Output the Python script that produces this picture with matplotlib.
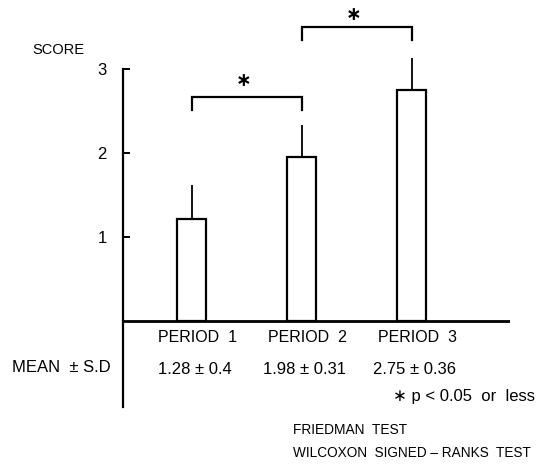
import matplotlib
matplotlib.use("Agg")
import matplotlib.pyplot as plt

plt.rcParams['font.family'] = ['Liberation Sans', 'DejaVu Sans']

# ---- data ----
periods = ["PERIOD  1", "PERIOD  2", "PERIOD  3"]
means = [1.21, 1.95, 2.75]
sds = [0.41, 0.38, 0.38]
mean_labels = ["1.28 \u00b1 0.4", "1.98 \u00b1 0.31", "2.75 \u00b1 0.36"]
y_ticks = [1, 2, 3]
y_ticklabels = ["1", "2", "3"]
comparisons = [(0, 1), (1, 2)]

W, H = 536, 466
fig = plt.figure(figsize=(W / 100, H / 100), dpi=100)

# axes placed in pixel coordinates
x_left_px, x_right_px = 122.7, 510
ax = fig.add_axes([x_left_px / W, 0, (x_right_px - x_left_px) / W, 1])
px_per_unit_x = 110.0
px_per_unit_y = 84.0
y0_px = 321.0  # pixel row (from top) of y=0
x0_px = 191.5  # pixel column of first bar
ax.set_xlim((x_left_px - x0_px) / px_per_unit_x, (x_right_px - x0_px) / px_per_unit_x)
ax.set_ylim(-(H - y0_px) / px_per_unit_y, y0_px / px_per_unit_y)
ax.patch.set_alpha(0)


def py(p):
    """pixel row -> data y"""
    return (y0_px - p) / px_per_unit_y


xs = list(range(len(means)))
ax.bar(xs, means, width=0.26, color="white", edgecolor="black", linewidth=1.6, zorder=3)
ax.errorbar(xs, means, yerr=[[0] * len(sds), sds], fmt="none", ecolor="black",
            elinewidth=1.3, capsize=0, zorder=2)

# axes styling
for s in ["top", "right", "bottom"]:
    ax.spines[s].set_visible(False)
ax.spines["left"].set_linewidth(1.6)
ax.spines["left"].set_bounds(py(407), 3)
ax.axhline(0, color="black", linewidth=2.0, zorder=4)
ax.set_xticks([])
ax.set_yticks(y_ticks)
ax.set_yticklabels(y_ticklabels)
ax.tick_params(axis="y", direction="in", length=5, width=1.4, pad=11.5, labelsize=12)

# significance brackets
bracket_tops = [py(96.7), py(26.5)]
star_y = [py(80), py(15)]
for (a, b), top, sy in zip(comparisons, bracket_tops, star_y):
    ax.plot([a, a, b, b], [top - 0.16, top, top, top - 0.16], color="black",
            linewidth=1.6, solid_joinstyle="miter", clip_on=False)
    ax.text((a + b) / 2 - 0.03, sy, "\u2217", ha="center", va="center", fontsize=13.5,
            fontweight="bold", family="DejaVu Sans")

# labels under the axis
for x, p, m in zip(xs, periods, mean_labels):
    ax.text(x + 0.05, py(338), p, ha="center", va="center", fontsize=11.5)
    ax.text(x + 0.03, py(369), m, ha="center", va="center", fontsize=12)

fig.text(32 / W, 1 - 50 / H, "SCORE", ha="left", va="center", fontsize=10.5)
fig.text(12 / W, 1 - 367 / H, "MEAN  \u00b1 S.D", ha="left", va="center", fontsize=12)
fig.text(535 / W, 1 - 396 / H, "\u2217 p < 0.05  or  less", ha="right", va="center", fontsize=12)
fig.text(293 / W, 1 - 430 / H, "FRIEDMAN  TEST", ha="left", va="center", fontsize=9.9)
fig.text(293 / W, 1 - 453 / H, "WILCOXON  SIGNED \u2013 RANKS  TEST", ha="left", va="center", fontsize=9.8)

fig.savefig("out.png", dpi=100, facecolor="white")
